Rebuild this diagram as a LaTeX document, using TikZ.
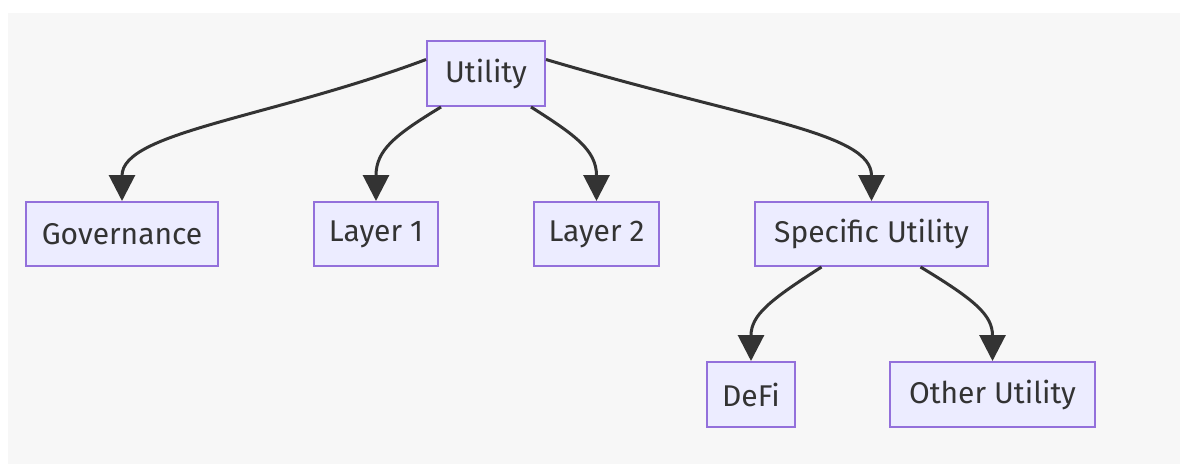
\documentclass[tikz,border=0pt]{standalone}
\usepackage{fontspec}
\setmainfont{Fira Sans}
\usetikzlibrary{arrows.meta}
\definecolor{bgc}{HTML}{F7F7F7}
\definecolor{nodefill}{HTML}{ECECFF}
\definecolor{nodeline}{HTML}{9370DB}
\definecolor{edgec}{HTML}{333333}
\tikzset{
  box/.style={draw=nodeline, fill=nodefill, line width=2pt, inner sep=0pt,
    text=edgec, font=\fontsize{30}{34}\selectfont, anchor=center},
  link/.style={draw=edgec, line width=3pt,
    -{Triangle[length=26pt,width=26pt]}}
}
\begin{document}
\begin{tikzpicture}[x=1pt,y=-1pt]
\useasboundingbox (0,0) rectangle (1180,466);
\fill[white] (0,0) rectangle (1180,466);
\fill[bgc] (8,13) rectangle (1180,464);
\node[box, minimum width=118pt, minimum height=65pt] (util) at (486,73.5) {Utility};
\node[box, minimum width=192pt, minimum height=64pt] (gov) at (122,234) {Governance};
\node[box, minimum width=124pt, minimum height=64pt] (l1) at (376,234) {Layer 1};
\node[box, minimum width=125pt, minimum height=64pt] (l2) at (596.5,234) {Layer 2};
\node[box, minimum width=233pt, minimum height=64pt] (spec) at (871.5,234) {Specific Utility};
\node[box, minimum width=88pt, minimum height=65pt] (defi) at (751,394.5) {DeFi};
\node[box, minimum width=205pt, minimum height=65pt] (other) at (992.5,394.5) {Other Utility};
\draw[link] ([yshift=14pt]util.west) .. controls (270,118) and (122,132) .. (gov.north);
\draw[link] ([xshift=-45pt]util.south) .. controls (395,135) and (376,150) .. (l1.north);
\draw[link] ([xshift=45pt]util.south) .. controls (575,135) and (596.5,150) .. (l2.north);
\draw[link] ([yshift=14pt]util.east) .. controls (750,120) and (871.5,132) .. (spec.north);
\draw[link] ([xshift=-50pt]spec.south) .. controls (770,300) and (751,315) .. (defi.north);
\draw[link] ([xshift=49pt]spec.south) .. controls (975,300) and (992.5,315) .. (other.north);
\end{tikzpicture}
\end{document}
